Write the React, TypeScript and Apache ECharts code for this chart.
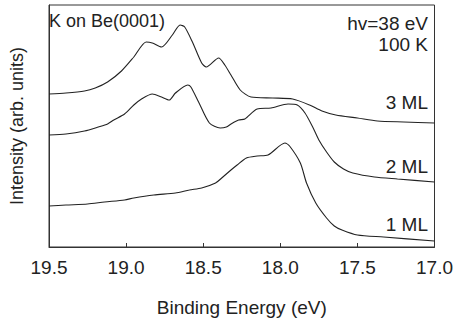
import React, { useEffect, useRef } from "react";
import * as echarts from "echarts";

// Photoemission spectra of K on Be(0001): [binding energy (eV), intensity (arb. units)]
const spectrum3ML: [number, number][] = [
  [19.5, 153], [19.39, 154], [19.27, 156], [19.2, 159], [19.12, 165], [19.03, 176],
  [18.95, 190], [18.87, 205], [18.83, 204], [18.77, 200], [18.7, 212],
  [18.65, 222], [18.62, 220], [18.57, 205], [18.51, 184], [18.48, 180], [18.4, 189],
  [18.36, 182], [18.32, 172], [18.26, 157], [18.19, 150], [18.05, 149], [17.92, 148],
  [17.81, 142], [17.73, 136], [17.64, 132], [17.5, 129], [17.37, 126], [17.2, 125],
  [17.0, 124],
];

const spectrum2ML: [number, number][] = [
  [19.5, 112], [19.39, 113], [19.27, 116], [19.18, 120], [19.12, 123], [19.08, 127],
  [19.01, 133], [18.95, 142], [18.9, 148], [18.83, 153], [18.77, 150], [18.72, 147],
  [18.68, 154], [18.6, 162], [18.58, 160], [18.53, 145], [18.46, 124], [18.39, 119],
  [18.35, 120], [18.32, 123], [18.27, 127], [18.23, 128], [18.15, 138], [18.06, 139],
  [17.95, 143], [17.89, 142], [17.84, 134], [17.79, 120], [17.75, 107], [17.7, 95],
  [17.65, 85], [17.59, 78], [17.53, 74], [17.39, 70], [17.24, 68], [17.0, 65],
];

const spectrum1ML: [number, number][] = [
  [19.5, 41], [19.39, 42], [19.25, 43], [19.14, 45], [19.01, 47], [18.95, 49],
  [18.82, 52], [18.68, 54], [18.59, 57], [18.51, 59], [18.42, 64], [18.38, 69],
  [18.32, 77], [18.28, 82], [18.22, 89], [18.15, 91], [18.08, 92], [17.97, 104],
  [17.94, 101], [17.87, 84], [17.83, 64], [17.77, 44], [17.7, 29], [17.65, 21],
  [17.6, 17], [17.5, 12], [17.33, 10], [17.0, 6],
];

const energyTicks = [17.0, 17.5, 18.0, 18.5, 19.0, 19.5];

const FONT = "Liberation Sans";
const INK = "#222";

export default function App() {
  const ref = useRef<HTMLDivElement>(null);

  useEffect(() => {
    document.body.style.margin = "0";
    if (!ref.current) return;
    const chart = echarts.init(ref.current, undefined, { renderer: "svg" });

    const line = (name: string, data: [number, number][]) => ({
      name,
      type: "line",
      data,
      showSymbol: false,
      smooth: 0.25,
      lineStyle: { color: INK, width: 1.1 },
      silent: true,
    });

    const label = (text: string, x: number, y: number, size: number, align: string) => ({
      type: "text",
      x,
      y,
      z: 100,
      style: {
        text,
        fontFamily: FONT,
        fontSize: size,
        fill: INK,
        align,
        verticalAlign: "top",
      },
    });

    chart.setOption({
      animation: false,
      grid: {
        left: 43,
        right: 18,
        top: 5,
        bottom: 75,
        show: true,
        borderColor: "#333",
        borderWidth: 1,
        backgroundColor: "transparent",
      },
      xAxis: {
        type: "value",
        min: energyTicks[0],
        max: energyTicks[energyTicks.length - 1],
        interval: 0.5,
        inverse: true,
        name: "Binding Energy (eV)",
        nameLocation: "middle",
        nameGap: 51,
        nameTextStyle: { fontFamily: FONT, fontSize: 19, color: INK },
        axisLine: { show: true, lineStyle: { color: "#333", width: 1 } },
        axisTick: { show: true, inside: true, length: 4, lineStyle: { color: "#333" } },
        axisLabel: {
          fontFamily: FONT,
          fontSize: 19,
          color: INK,
          margin: 11,
          formatter: (v: number) => v.toFixed(1),
        },
        splitLine: { show: false },
      },
      yAxis: {
        type: "value",
        min: 0,
        max: 242,
        name: "Intensity (arb. units)",
        nameLocation: "middle",
        nameGap: 23,
        nameTextStyle: { fontFamily: FONT, fontSize: 18, color: INK },
        axisLine: { show: true, lineStyle: { color: "#333", width: 1 } },
        axisTick: { show: false },
        axisLabel: { show: false },
        splitLine: { show: false },
      },
      graphic: [
        label("K on Be(0001)", 49, 12, 18, "left"),
        label("hv=38 eV", 428, 14, 19, "right"),
        label("100 K", 428, 35, 19, "right"),
        label("3 ML", 428, 93, 19, "right"),
        label("2 ML", 428, 157, 19, "right"),
        label("1 ML", 428, 215, 19, "right"),
      ],
      series: [
        line("3 ML", spectrum3ML),
        line("2 ML", spectrum2ML),
        line("1 ML", spectrum1ML),
      ],
    });

    return () => chart.dispose();
  }, []);

  return <div ref={ref} style={{ width: 456, height: 322 }} />;
}
